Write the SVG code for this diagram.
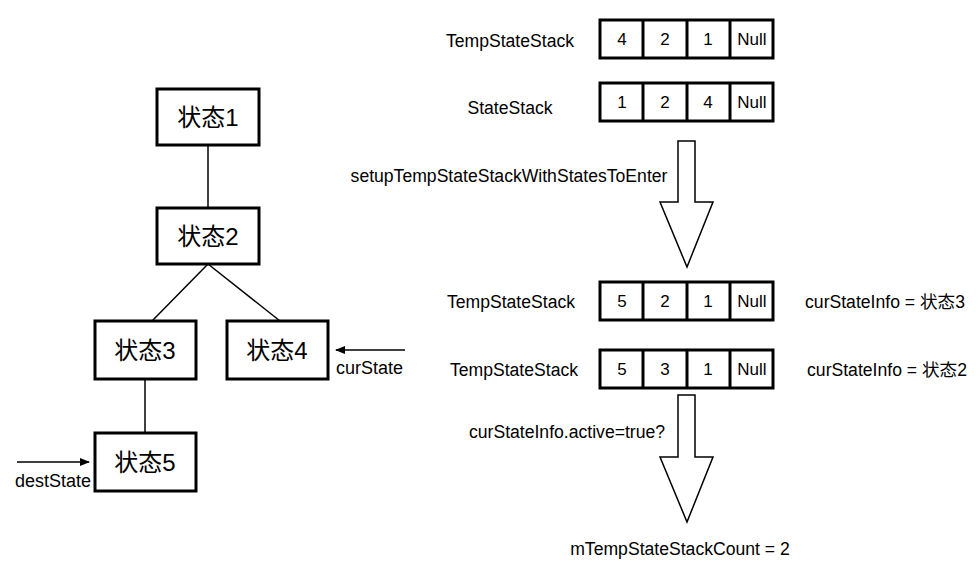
<svg xmlns="http://www.w3.org/2000/svg" width="980" height="575" viewBox="0 0 980 575">
<defs>
<style>
.t{font-family:"Liberation Sans",Arial,sans-serif;fill:#000;}
.lbl{font-size:17.6px;text-anchor:middle;}
.cell{font-size:17px;text-anchor:middle;}
.node{font-family:"Liberation Sans","Noto Sans CJK SC",sans-serif;font-size:24px;text-anchor:middle;fill:#000;}
.cjk{font-family:"Liberation Sans","Noto Sans CJK SC",sans-serif;}
.box{fill:#fff;stroke:#000;stroke-width:3;}
.ln{fill:none;stroke:#000;stroke-width:1.5;}
.big{fill:#fff;stroke:#000;stroke-width:1.5;stroke-linejoin:miter;}
</style>
<marker id="ah" markerWidth="10" markerHeight="8" refX="9" refY="4" orient="auto" markerUnits="userSpaceOnUse">
<path d="M0,0 L10,4 L0,8 Z" fill="#000"/>
</marker>
</defs>
<rect width="980" height="575" fill="#fff"/>

<g id="connectors">
<line class="ln" x1="208" y1="145" x2="208" y2="208"/>
<line class="ln" x1="208" y1="264" x2="152" y2="321"/>
<line class="ln" x1="208" y1="264" x2="280" y2="321"/>
<line class="ln" x1="145" y1="379" x2="145" y2="433"/>
<line class="ln" x1="405" y1="350" x2="336" y2="350" marker-end="url(#ah)"/>
<line class="ln" x1="17" y1="462" x2="89" y2="462" marker-end="url(#ah)"/>
<path class="big" d="M678,141 L695,141 L695,202 L713,202 L687,267 L660,202 L678,202 Z"/>
<path class="big" d="M678,395 L695,395 L695,457 L713,457 L687,522 L660,457 L678,457 Z"/>
</g>

<g id="node1"><rect class="box" x="157" y="89" width="102" height="56"/><text class="node" x="208" y="126">状态1</text></g>
<g id="node2"><rect class="box" x="157" y="208" width="102" height="56"/><text class="node" x="208" y="245">状态2</text></g>
<g id="node3"><rect class="box" x="95" y="321" width="101" height="58"/><text class="node" x="145" y="359">状态3</text></g>
<g id="node4"><rect class="box" x="227" y="321" width="101" height="58"/><text class="node" x="277" y="359">状态4</text></g>
<g id="node5"><rect class="box" x="95" y="433" width="101" height="58"/><text class="node" x="145" y="471">状态5</text></g>

<text class="t" x="336" y="374" font-size="18">curState</text>
<text class="t" x="15" y="487" font-size="18">destState</text>

<g id="stack1">
<rect class="box" x="600" y="20" width="173" height="38"/>
<line class="box" x1="643" y1="20" x2="643" y2="58"/><line class="box" x1="687" y1="20" x2="687" y2="58"/><line class="box" x1="730" y1="20" x2="730" y2="58"/>
<text class="t cell" x="622" y="45">4</text><text class="t cell" x="665" y="45">2</text><text class="t cell" x="708" y="45">1</text><text class="t cell" x="752" y="45">Null</text>
</g>
<g id="stack2">
<rect class="box" x="600" y="83" width="173" height="38"/>
<line class="box" x1="643" y1="83" x2="643" y2="121"/><line class="box" x1="687" y1="83" x2="687" y2="121"/><line class="box" x1="730" y1="83" x2="730" y2="121"/>
<text class="t cell" x="622" y="108">1</text><text class="t cell" x="665" y="108">2</text><text class="t cell" x="708" y="108">4</text><text class="t cell" x="752" y="108">Null</text>
</g>
<g id="stack3">
<rect class="box" x="600" y="282" width="173" height="38"/>
<line class="box" x1="643" y1="282" x2="643" y2="320"/><line class="box" x1="687" y1="282" x2="687" y2="320"/><line class="box" x1="730" y1="282" x2="730" y2="320"/>
<text class="t cell" x="622" y="307">5</text><text class="t cell" x="665" y="307">2</text><text class="t cell" x="708" y="307">1</text><text class="t cell" x="752" y="307">Null</text>
</g>
<g id="stack4">
<rect class="box" x="600" y="350" width="173" height="38"/>
<line class="box" x1="643" y1="350" x2="643" y2="388"/><line class="box" x1="687" y1="350" x2="687" y2="388"/><line class="box" x1="730" y1="350" x2="730" y2="388"/>
<text class="t cell" x="622" y="375">5</text><text class="t cell" x="665" y="375">3</text><text class="t cell" x="708" y="375">1</text><text class="t cell" x="752" y="375">Null</text>
</g>

<text class="t lbl" x="510" y="47">TempStateStack</text>
<text class="t lbl" x="510" y="114">StateStack</text>
<text class="t lbl" x="509" y="182">setupTempStateStackWithStatesToEnter</text>
<text class="t lbl" x="511" y="308">TempStateStack</text>
<text class="t lbl cjk" x="885" y="308">curStateInfo = 状态3</text>
<text class="t lbl" x="514" y="376">TempStateStack</text>
<text class="t lbl cjk" x="887" y="376">curStateInfo = 状态2</text>
<text class="t lbl" x="567" y="438">curStateInfo.active=true?</text>
<text class="t lbl" x="680" y="555">mTempStateStackCount = 2</text>
</svg>
